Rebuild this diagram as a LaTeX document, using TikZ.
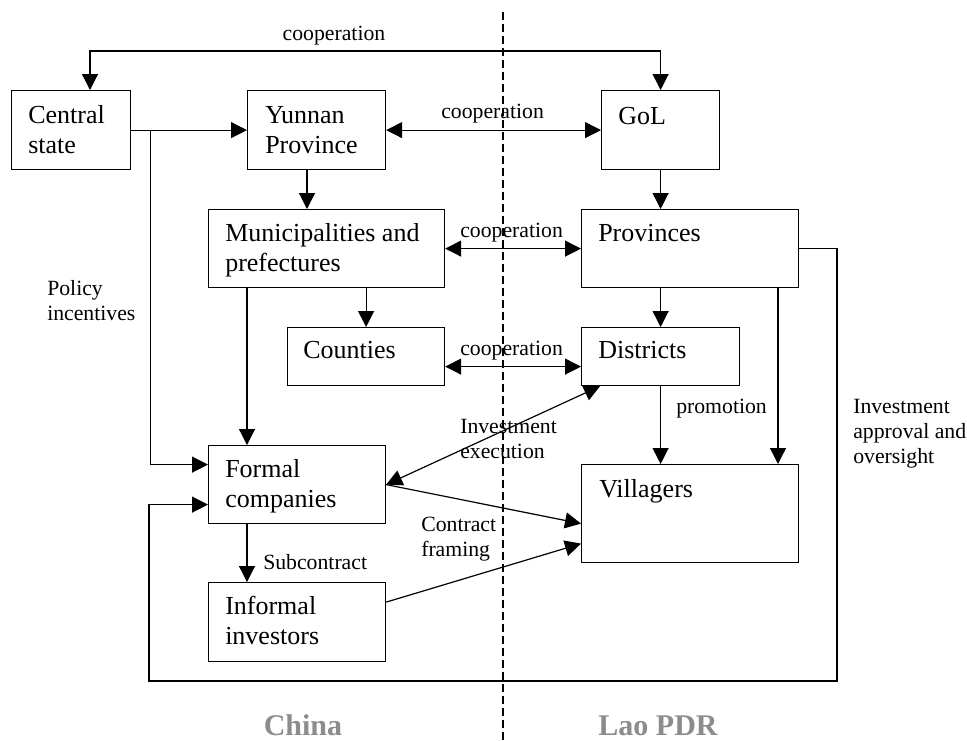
\documentclass[tikz,border=0pt]{standalone}
\usepackage{fontspec}
\setmainfont{Liberation Serif}
\usetikzlibrary{arrows.meta,calc}
\tikzset{
  box/.style={draw, line width=0.9pt, rectangle, inner sep=0pt, anchor=north west},
  boxtext/.style={anchor=base west, inner sep=0pt, font=\fontsize{19.5}{23}\selectfont},
  lbl/.style={anchor=base west, inner sep=0pt, font=\fontsize{16.3}{18.8}\selectfont},
  conn/.style={line width=0.9pt, -{Triangle[length=12pt,width=12pt]}},
  dconn/.style={line width=0.9pt, {Triangle[length=12pt,width=12pt]}-{Triangle[length=12pt,width=12pt]}},
  country/.style={anchor=base, inner sep=0pt, text=black!45, font=\fontsize{22.5}{26}\selectfont\bfseries}
}
\newcommand{\ml}[1]{\begin{tabular}[t]{@{}l@{}}#1\end{tabular}}
\begin{document}
\begin{tikzpicture}[x=0.75pt,y=-0.75pt]
\useasboundingbox (0,0) rectangle (967,740);
% boxes
\node[box, minimum width=119*0.75pt, minimum height=79*0.75pt] (cs) at (11,90) {};
\node[box, minimum width=138*0.75pt, minimum height=79*0.75pt] (yp) at (247,90) {};
\node[box, minimum width=118*0.75pt, minimum height=79*0.75pt] (gol) at (601,90) {};
\node[box, minimum width=236*0.75pt, minimum height=78*0.75pt] (mun) at (208,209) {};
\node[box, minimum width=217*0.75pt, minimum height=78*0.75pt] (prv) at (581,209) {};
\node[box, minimum width=157*0.75pt, minimum height=58*0.75pt] (cty) at (287,327) {};
\node[box, minimum width=158*0.75pt, minimum height=58*0.75pt] (dst) at (581,327) {};
\node[box, minimum width=177*0.75pt, minimum height=78*0.75pt] (frm) at (208,445) {};
\node[box, minimum width=177*0.75pt, minimum height=79*0.75pt] (inf) at (208,582) {};
\node[box, minimum width=217*0.75pt, minimum height=98*0.75pt] (vil) at (581,464) {};
% box texts
\node[boxtext] (tcs) at ($(cs.north west)+(17,33)$) {\ml{Central\\state}};
\node[boxtext] (typ) at ($(yp.north west)+(18,33)$) {\ml{Yunnan\\Province}};
\node[boxtext] (tgol) at ($(gol.north west)+(17,34)$) {GoL};
\node[boxtext] (tmun) at ($(mun.north west)+(17,32)$) {\ml{Municipalities and\\prefectures}};
\node[boxtext] (tprv) at ($(prv.north west)+(17,32)$) {Provinces};
\node[boxtext] (tcty) at ($(cty.north west)+(16,31)$) {Counties};
\node[boxtext] (tdst) at ($(dst.north west)+(17,31)$) {Districts};
\node[boxtext] (tfrm) at ($(frm.north west)+(17,32)$) {\ml{Formal\\companies}};
\node[boxtext] (tinf) at ($(inf.north west)+(17,32)$) {\ml{Informal\\investors}};
\node[boxtext] (tvil) at ($(vil.north west)+(18,33)$) {Villagers};
% dashed border
\coordinate (dtop) at (503,12);
\coordinate (dbot) at (503,740);
\draw[line width=0.9pt, dash pattern=on 6pt off 3pt] (dtop) -- (dbot);
% helper coordinates
\coordinate (topl) at ($(cs.north west)+(79,-39)$);
\coordinate (csin) at ($(cs.north west)+(79,0)$);
\coordinate (br) at ($(cs.east)+(19,0)$);
\coordinate (lr) at (837,681);
\coordinate (ll) at (149,681);
\coordinate (ypout) at ($(yp.south west)+(60,0)$);
\coordinate (munout) at ($(mun.south west)+(39,0)$);
\coordinate (prvout) at ($(prv.south west)+(197,0)$);
\coordinate (frmout) at ($(frm.south west)+(39,0)$);
\coordinate (dstin) at ($(dst.south west)+(19,0)$);
% connectors
\draw[dconn] (csin) -- (topl) -| (gol.north);
\draw[conn] (cs.east) -- (yp.west);
\draw[conn] (br) |- ($(frm.west)+(0,-20)$);
\draw[dconn] (yp.east) -- (gol.west);
\draw[dconn] (mun.east) -- (prv.west);
\draw[dconn] ($(cty.east)+(0,10)$) -- ($(dst.west)+(0,10)$);
\draw[conn] (ypout) -- (ypout |- mun.north);
\draw[conn] (cty.north |- mun.south) -- (cty.north);
\draw[conn] (munout) -- (munout |- frm.north);
\draw[conn] (gol.south) -- (gol.south |- prv.north);
\draw[conn] (prv.south -| dst.north) -- (dst.north);
\draw[conn] (dst.south) -- (dst.south |- vil.north);
\draw[conn] (prvout) -- (prvout |- vil.north);
\draw[conn] (prv.east) -| (lr) -- (ll) |- ($(frm.west)+(0,20)$);
\draw[dconn] (frm.east) -- (dstin);
\draw[conn] (frm.east) -- ($(vil.west)+(0,10)$);
\draw[conn] ($(inf.east)+(0,-20)$) -- ($(vil.west)+(0,30)$);
\draw[conn] (frmout) -- (frmout |- inf.north);
% labels
\node[lbl, anchor=base] (l1) at (334,40) {cooperation};
\node[lbl] (l2) at (441,118) {cooperation};
\node[lbl] (l3) at (460,237) {cooperation};
\node[lbl] (l4) at (460,355) {cooperation};
\node[lbl] (l5) at (47,295) {\ml{Policy\\incentives}};
\node[lbl] (l6) at (460,433) {\ml{Investment\\execution}};
\node[lbl] (l7) at (421,531) {\ml{Contract\\framing}};
\node[lbl] (l8) at (263,569) {Subcontract};
\node[lbl] (l9) at (676,413) {promotion};
\node[lbl] (l10) at (853,413) {\ml{Investment\\approval and\\oversight}};
\node[country] (china) at (303,735) {China};
\node[country] (lao) at (658,735) {Lao PDR};
\end{tikzpicture}
\end{document}
